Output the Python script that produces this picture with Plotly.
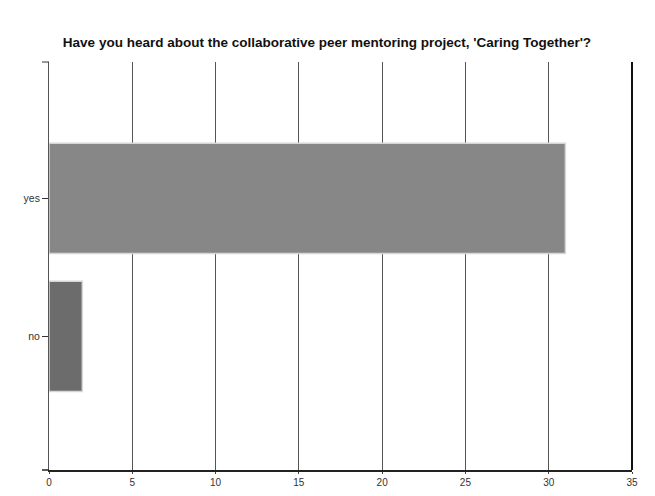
import plotly.graph_objects as go

categories = ["no", "yes"]
values = [2, 31]
bar_colors = ["#6c6c6c", "#878787"]
x_ticks = [0, 5, 10, 15, 20, 25, 30, 35]
title_text = "Have you heard about the collaborative peer mentoring project, 'Caring Together'?"

W, H = 639, 480
fig = go.Figure()
fig.add_trace(go.Bar(
    x=values, y=categories, orientation="h",
    marker=dict(color=bar_colors, line=dict(color="#d6d6d6", width=1.5)),
    width=0.8, hoverinfo="x+y",
))

fig.update_layout(
    width=W, height=H,
    margin=dict(l=41, r=15, t=54, b=18),
    paper_bgcolor="white", plot_bgcolor="white",
    showlegend=False,
    title=dict(text="<b>" + title_text + "</b>", x=(327 - 8) / W, xanchor="center",
               y=1 - 34 / H, yanchor="middle",
               font=dict(family="Liberation Sans, Arial, sans-serif", size=13.5, color="#111")),
    font=dict(family="Liberation Sans, Arial, sans-serif", size=10.5, color="#333"),
    bargap=0.2,
)
fig.update_xaxes(
    range=[0, 35], tickvals=x_ticks, showgrid=True, gridcolor="#555", gridwidth=1,
    showline=True, linecolor="#222", linewidth=1.5, automargin=False,
    ticks="outside", ticklen=2, tickcolor="#444", zeroline=False, fixedrange=True,
    tickfont=dict(size=10),
)
fig.update_yaxes(
    type="category", categoryorder="array", categoryarray=categories,
    range=[-0.97, 1.99], showgrid=False, automargin=False,
    showline=True, linecolor="#555", linewidth=1, mirror=False,
    ticks="outside", ticklen=6, tickcolor="#333", zeroline=False, fixedrange=True,
)
# right border and left stubs
fig.add_shape(type="line", xref="paper", yref="paper", x0=1, x1=1, y0=0, y1=1,
              line=dict(color="#111", width=2))
fig.add_shape(type="line", xref="paper", yref="paper", x0=-0.012, x1=0, y0=1, y1=1,
              line=dict(color="#333", width=1))
fig.add_shape(type="line", xref="paper", yref="paper", x0=-0.012, x1=0, y0=0, y1=0,
              line=dict(color="#222", width=1.5))

fig.write_html("out.html")
